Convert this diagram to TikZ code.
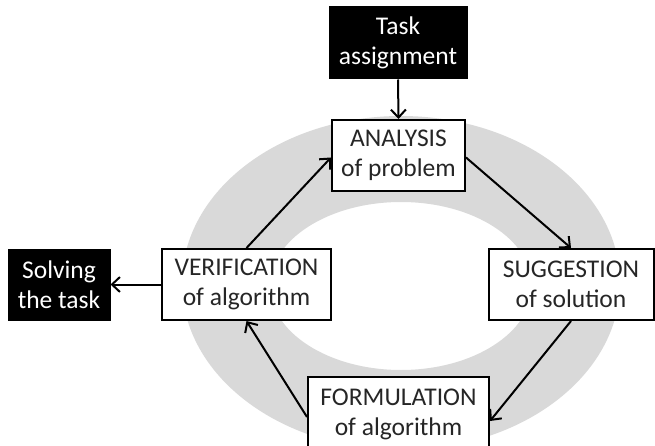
\documentclass[tikz,border=0pt]{standalone}
\usepackage{fontspec}
\setmainfont{Carlito}
\usetikzlibrary{arrows.meta}
\tikzset{
  stagebox/.style={draw=black, line width=2pt, fill=white, align=center, inner sep=0pt,
    font=\fontsize{25.5}{30}\selectfont, text=black!85},
  blackbox/.style={draw=black, line width=1pt, fill=black, align=center, inner sep=0pt,
    font=\fontsize{25.5}{30}\selectfont, text=white},
  flow/.style={line width=2pt, -{Straight Barb[length=8pt,width=15pt,line width=2pt]}}
}
\begin{document}
\begin{tikzpicture}[x=1pt,y=1pt]
\clip (0,0) rectangle (655,-446);
\fill[white] (0,0) rectangle (655,-446);
\fill[gray!30, even odd rule] (401,-283) ellipse [x radius=219, y radius=167]
  (401,-286) ellipse [x radius=131, y radius=84];
\node[blackbox, minimum width=138pt, minimum height=72pt] (task) at (398,-43) {Task\\assignment};
\node[stagebox, minimum width=133pt, minimum height=71pt] (ana) at (398.5,-155.5) {ANALYSIS\\of problem};
\node[stagebox, minimum width=165pt, minimum height=71pt] (sug) at (571,-284.5) {SUGGESTION\\of solution};
\node[stagebox, minimum width=181pt, minimum height=74pt] (form) at (398.5,-414) {FORMULATION\\of algorithm};
\node[stagebox, minimum width=169pt, minimum height=71pt] (ver) at (246.5,-284.5) {VERIFICATION\\of algorithm};
\node[blackbox, minimum width=102pt, minimum height=71pt] (solve) at (59,-284.5) {Solving\\the task};
\draw[flow] (task.south) -- (ana.north);
\draw[flow] ([yshift=-2pt]ana.east) -- (sug.north);
\draw[flow] (sug.south) -- ([yshift=-7pt]form.east);
\draw[flow] ([yshift=-3pt]form.west) -- (ver.south);
\draw[flow] (ver.north) -- ([yshift=-2pt]ana.west);
\draw[flow] (ver.west) -- (solve.east);
\end{tikzpicture}
\end{document}
